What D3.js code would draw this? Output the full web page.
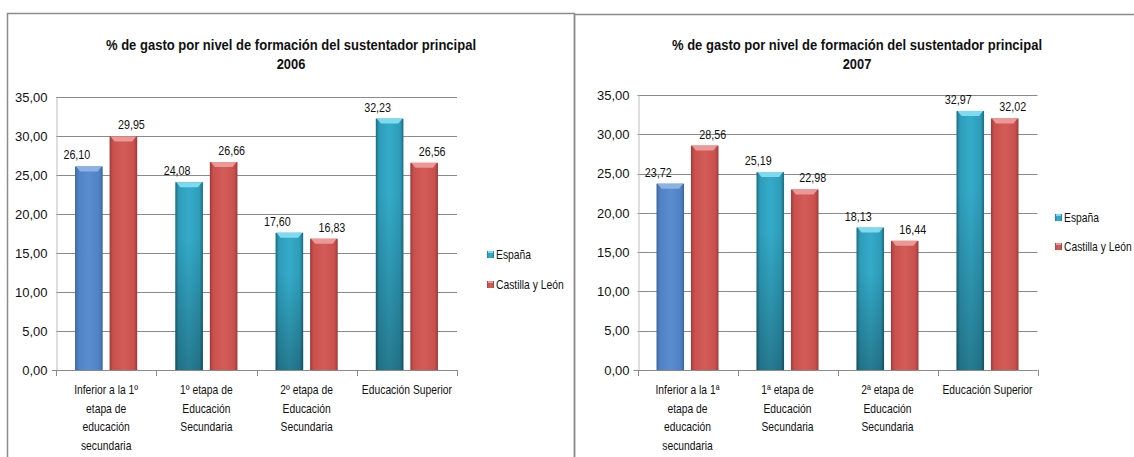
<!DOCTYPE html>
<html>
<head>
<meta charset="utf-8">
<script src="https://cdn.jsdelivr.net/npm/d3@7"></script>
<style>
  body { margin: 0; background: #fff; }
  svg { display: block; }
  text { font-family: "Liberation Sans", Arial, sans-serif; fill: #111; }
</style>
</head>
<body>
<div class="charts"></div>
<script>
// data
let seriesNames = ["España", "Castilla y León"]
let titleText = "% de gasto por nivel de formación del sustentador principal"
let years = ["2006", "2007"]
let cats2006 = [
  ["Inferior a la 1º", "etapa de", "educación", "secundaria"],
  ["1º etapa de", "Educación", "Secundaria"],
  ["2º etapa de", "Educación", "Secundaria"],
  ["Educación Superior"]
]
let cats2007 = [
  ["Inferior a la 1ª", "etapa de", "educación", "secundaria"],
  ["1ª etapa de", "Educación", "Secundaria"],
  ["2ª etapa de", "Educación", "Secundaria"],
  ["Educación Superior"]
]
let espana2006 = [26.10, 24.08, 17.60, 32.23]
let cyl2006 = [29.95, 26.66, 16.83, 26.56]
let espana2007 = [23.72, 25.19, 18.13, 32.97]
let cyl2007 = [28.56, 22.98, 16.44, 32.02]
let yTicks = [0, 5, 10, 15, 20, 25, 30, 35]

let locale = d3.formatLocale({ decimal: ",", thousands: ".", grouping: [3], currency: ["", " €"] })
let fmt = locale.format(".2f")

// the original text is a narrow face, squeeze it horizontally
let SX = 0.86

let svg = d3.select(".charts")
  .append("svg")
  .attr("width", 1134)
  .attr("height", 457)

// bar colours: [dark edge, base, light centre, cap]
let palette = {
  blue: ["#3b66a0", "#4f81c4", "#5a8dcf", "#8db1e0"],
  teal: ["#1c6a7e", "#2d9cb9", "#35abc9", "#7fd9ef"],
  red: ["#9c3b39", "#c9504d", "#d35b58", "#ec9896"]
}
let defs = svg.append("defs")
Object.keys(palette).forEach(k => {
  let c = palette[k]
  let g = defs.append("linearGradient").attr("id", "h-" + k)
    .attr("x1", "0").attr("x2", "1").attr("y1", "0").attr("y2", "0")
  ;[[0, c[0]], [0.12, c[1]], [0.5, c[2]], [0.88, c[1]], [1, c[0]]].forEach(s => {
    g.append("stop").attr("offset", s[0]).attr("stop-color", s[1])
  })
})
let shade = defs.append("linearGradient").attr("id", "v-shade")
  .attr("x1", "0").attr("x2", "0").attr("y1", "0").attr("y2", "1")
shade.append("stop").attr("offset", 0.3).attr("stop-color", "#000").attr("stop-opacity", 0)
shade.append("stop").attr("offset", 1).attr("stop-color", "#000").attr("stop-opacity", 0.28)

// frames
svg.append("rect").attr("x", 7.5).attr("y", 13.5).attr("width", 567).attr("height", 460)
  .attr("fill", "none").attr("stroke", "#8c8c8c").attr("stroke-width", 1.5)
svg.append("rect").attr("x", 574.5).attr("y", 14.5).attr("width", 580).attr("height", 460)
  .attr("fill", "none").attr("stroke", "#8c8c8c").attr("stroke-width", 1.5)

let label = (g, x, y, str, anchor, size) => {
  return g.append("text")
    .attr("transform", `translate(${x},${y}) scale(${SX},1)`)
    .attr("text-anchor", anchor || "middle")
    .attr("font-size", size || 12)
    .text(str)
}

function drawBar(g, x, top, w, bottom, key, darken) {
  let c = palette[key]
  g.append("rect").attr("x", x).attr("y", top).attr("width", w).attr("height", bottom - top)
    .attr("fill", "url(#h-" + key + ")")
  if (darken) {
    g.append("rect").attr("x", x).attr("y", top).attr("width", w).attr("height", bottom - top)
      .attr("fill", "url(#v-shade)")
  }
  g.append("path")
    .attr("d", `M${x + 1},${top} L${x + w - 1},${top} L${x + w - 5},${top + 5} L${x + 5},${top + 5} Z`)
    .attr("fill", c[3])
}

function drawChart(opt) {
  let g = svg.append("g")
  let y = d3.scaleLinear().domain([0, 35]).range([opt.y0, opt.y35])
  let x0 = d3.scaleBand().domain(d3.range(opt.cats.length)).range([opt.left, opt.right])
  let x1 = d3.scaleBand().domain(seriesNames)
    .range([x0.bandwidth() * 0.19, x0.bandwidth() * 0.81]).paddingInner(0.2)

  // title
  g.append("text").attr("x", opt.titleX).attr("y", 50).attr("text-anchor", "middle")
    .attr("font-size", 15).attr("font-weight", "bold")
    .attr("textLength", 370).attr("lengthAdjust", "spacingAndGlyphs")
    .text(titleText)
  label(g, opt.titleX, 69, opt.year, "middle", 15).attr("font-weight", "bold")

  // grid lines
  g.selectAll(".grid").data(yTicks.slice(1)).enter().append("line")
    .attr("x1", opt.left).attr("x2", opt.right)
    .attr("y1", d => Math.round(y(d)) + 0.5).attr("y2", d => Math.round(y(d)) + 0.5)
    .attr("stroke", "#8a8a8a").attr("stroke-width", 1)

  // y axis
  let yAxis = d3.axisLeft(y).tickValues(yTicks).tickSize(0).tickPadding(9).tickFormat(fmt)
  let ya = g.append("g").attr("transform", `translate(${Math.round(opt.left) + 0.5},0)`).call(yAxis)
  ya.select(".domain").attr("stroke", "#bdbdbd")
  ya.selectAll("text").attr("font-size", 13).attr("fill", "#111")
    .attr("font-family", null)

  // bars
  opt.cats.forEach((c, i) => {
    let base = x0(i)
    let vals = [opt.esp[i], opt.cyl[i]]
    seriesNames.forEach((s, j) => {
      let bx = base + x1(s)
      let key = j === 1 ? "red" : (i === 0 ? "blue" : "teal")
      drawBar(g, bx, y(vals[j]), x1.bandwidth(), y(0), key, key === "teal")
      label(g, bx + x1.bandwidth() / 2 + (j === 0 ? -12 : 8), y(vals[j]) - 7, fmt(vals[j]), "middle", 12.5)
    })
  })

  // x axis
  g.append("line").attr("x1", opt.left - 4).attr("x2", opt.right)
    .attr("y1", Math.round(y(0)) + 0.5).attr("y2", Math.round(y(0)) + 0.5)
    .attr("stroke", "#8a8a8a")
  let edges = d3.range(opt.cats.length + 1).map(i => opt.left + i * x0.step())
  g.selectAll(".xt").data(edges).enter().append("line")
    .attr("x1", d => Math.round(d) + 0.5).attr("x2", d => Math.round(d) + 0.5)
    .attr("y1", y(0)).attr("y2", y(0) + 6)
    .attr("stroke", "#8a8a8a")
  opt.cats.forEach((lines, i) => {
    lines.forEach((ln, k) => {
      label(g, x0(i) + x0.bandwidth() / 2, 394 + k * 18.5, ln)
    })
  })

  // legend
  seriesNames.forEach((s, j) => {
    let ly = opt.legendY + j * opt.legendGap
    let key = j === 0 ? "teal" : "red"
    g.append("rect").attr("x", opt.legendX).attr("y", ly - 4).attr("width", 7).attr("height", 7)
      .attr("fill", "url(#h-" + key + ")")
    g.append("rect").attr("x", opt.legendX + 1).attr("y", ly - 4).attr("width", 5).attr("height", 2)
      .attr("fill", palette[key][3])
    label(g, opt.legendX + 9, ly + 4, s, "start")
  })
}

drawChart({
  year: years[0], cats: cats2006, esp: espana2006, cyl: cyl2006,
  left: 56, right: 457, y0: 370, y35: 97, titleX: 291,
  legendX: 487, legendY: 255, legendGap: 30
})
drawChart({
  year: years[1], cats: cats2007, esp: espana2007, cyl: cyl2007,
  left: 637.5, right: 1037.5, y0: 370, y35: 95, titleX: 857,
  legendX: 1055, legendY: 218, legendGap: 29
})
</script>
</body>
</html>
